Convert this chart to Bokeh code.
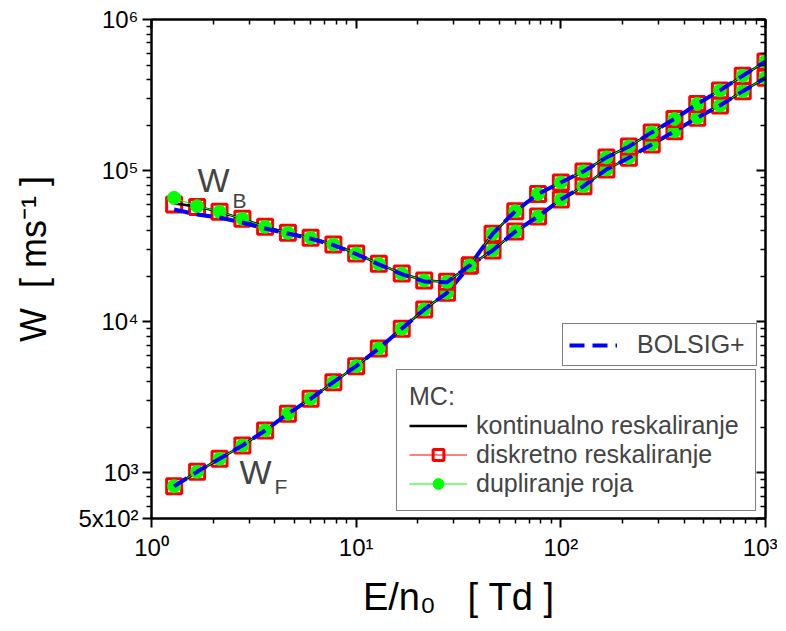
from bokeh.plotting import figure
from bokeh.models import (LogAxis, FixedTicker, Legend, LegendItem, Label, Range1d)
from bokeh.embed import file_html
from bokeh.resources import INLINE

FONT = "Liberation Sans"
NB = "\u00a0"

# ---- data ----
E = [1.29, 1.67, 2.15, 2.78, 3.59, 4.64, 5.99, 7.74, 10.0, 12.9, 16.7, 21.5, 27.8,
     35.9, 46.4, 59.9, 77.4, 100, 129, 167, 215, 278, 359, 464, 599, 774, 1000]

wf_cont = [818, 1018, 1241, 1521, 1910, 2464, 3097, 3989, 5090, 6665, 8990, 12070, 15560,
           23590, 29640, 39600, 49760, 64440, 78900, 101800, 121700, 149000, 182400,
           223800, 269900, 335600, 411400]
wf_disc = [818, 1018, 1241, 1521, 1910, 2464, 3097, 3989, 5090, 6665, 8990, 12070, 15560,
           23590, 29640, 39600, 49760, 64440, 78900, 101800, 121700, 149000, 182400,
           223800, 269900, 335600, 411400]
wf_dup = [818, 1018, 1241, 1521, 1910, 2464, 3097, 3989, 5090, 6665, 8990, 12070, 15560,
          23590, 29640, 39600, 49760, 64440, 78900, 101800, 121700, 149000, 182400,
          223800, 269900, 335600, 411400]
wf_bolsig = [818, 1018, 1241, 1521, 1910, 2464, 3097, 3989, 5090, 6665, 8990, 12070, 15560,
             23590, 29640, 39600, 49760, 64440, 78900, 101800, 121700, 149000, 182400,
             223800, 269900, 335600, 411400]

wb_cont = [61000, 57800, 53400, 48000, 42500, 38800, 35960, 32480, 28310, 24200, 20870,
           18770, 18400, 23590, 38220, 53950, 70110, 83510, 98900, 122400, 144500,
           179100, 219700, 276100, 339600, 424700, 527600]
wb_disc = [59700, 57500, 53400, 48000, 42500, 38800, 35960, 32480, 28310, 24200, 20870,
           18770, 18400, 23590, 38220, 53950, 70110, 83510, 98900, 122400, 144500,
           179100, 219700, 276100, 339600, 424700, 527600]
wb_dup = [66100, 58200, 53400, 48000, 42500, 38800, 35960, 32480, 28310, 24200, 20870,
          18770, 18400, 23590, 38220, 53950, 70110, 83510, 98900, 122400, 144500,
          179100, 219700, 276100, 339600, 424700, 527600]
wb_bolsig = [55300, 51300, 49000, 45400, 41400, 38400, 35500, 32200, 28100, 24000, 20700,
             18500, 18300, 23590, 38220, 53950, 70110, 83510, 98900, 122400, 144500,
             179100, 219700, 276100, 339600, 424700, 527600]

x_major = [1, 10, 100, 1000]
x_major_labels = ["10\u2070", "10\u00b9", "10\u00b2", "10\u00b3"]
y_major = [500, 1000, 10000, 100000, 1000000]
y_major_labels = ["5x10\u00b2", "10\u00b3", "10\u2074", "10\u2075", "10\u2076"]

x_minor = [m * d for d in (1, 10, 100) for m in range(2, 10)]
y_minor = [600, 700, 800, 900] + [m * d for d in (1000, 10000, 100000) for m in range(2, 10)]

p = figure(width=777, height=627, x_axis_type="log", y_axis_type="log",
           x_range=Range1d(1, 1000), y_range=Range1d(500, 1e6),
           output_backend="svg", toolbar_location=None,
           min_border_left=151, min_border_right=12, min_border_top=19,
           min_border_bottom=109)
p.grid.visible = False
p.outline_line_color = "black"
p.outline_line_width = 2
p.background_fill_color = "white"
p.border_fill_color = "white"

xa = p.xaxis[0]
ya = p.yaxis[0]
xa.ticker = FixedTicker(ticks=x_major, minor_ticks=x_minor)
ya.ticker = FixedTicker(ticks=y_major, minor_ticks=y_minor)
xa.major_label_overrides = dict(zip(x_major, x_major_labels))
ya.major_label_overrides = dict(zip(y_major, y_major_labels))

for ax in (xa, ya):
    ax.axis_line_width = 2
    ax.major_tick_out = 9
    ax.major_tick_in = 0
    ax.minor_tick_out = 5
    ax.minor_tick_in = 0
    ax.major_tick_line_width = 2
    ax.minor_tick_line_width = 1.5
    ax.major_label_text_font = FONT
    ax.major_label_text_font_size = "24px"
    ax.major_label_text_color = "black"
    ax.axis_label_text_font = FONT
    ax.axis_label_text_font_style = "normal"
    ax.axis_label_text_color = "black"

xa.major_label_standoff = 6
ya.major_label_standoff = 4
xa.axis_label = "E/n\u2080" + NB * 3 + "[" + NB + "Td" + NB + "]"
xa.axis_label_text_font_size = "38px"
xa.axis_label_standoff = 12
ya.axis_label = NB * 2 + "W" + NB * 2 + "[" + NB + "ms\u207b\u00b9" + NB + "]"
ya.axis_label_text_font_size = "36px"
ya.axis_label_standoff = 21

top = LogAxis(ticker=FixedTicker(ticks=x_major, minor_ticks=x_minor),
              major_label_overrides={t: "" for t in x_major})
right = LogAxis(ticker=FixedTicker(ticks=y_major, minor_ticks=y_minor),
                major_label_overrides={t: "" for t in y_major})
for ax in (top, right):
    ax.axis_line_width = 2
    ax.major_tick_in = 9
    ax.major_tick_out = 0
    ax.minor_tick_in = 5
    ax.minor_tick_out = 0
    ax.major_tick_line_width = 2
    ax.minor_tick_line_width = 1.5
    ax.major_label_text_font_size = "6px"
    ax.major_label_standoff = 0
p.add_layout(top, "above")
p.add_layout(right, "right")

# ---- data renderers ----
red_lines, red_sqs, green_lines, green_cs, black_lines, blue_lines = [], [], [], [], [], []
for cont, disc, dup, bol in ((wf_cont, wf_disc, wf_dup, wf_bolsig),
                             (wb_cont, wb_disc, wb_dup, wb_bolsig)):
    red_lines.append(p.line(E, disc, line_color="#ff0000", line_width=1))
    red_sqs.append(p.scatter(E, disc, marker="square", size=15, fill_color=None,
                             line_color="#ff0000", line_width=3))
    black_lines.append(p.line(E, cont, line_color="black", line_width=2.5))
    green_lines.append(p.line(E, dup, line_color="#00ff00", line_width=1))
    green_cs.append(p.scatter(E, dup, marker="circle", size=13, fill_color="#00ff00",
                              line_color="#00ff00"))
    blue_lines.append(p.line(E, bol, line_color="#0000ff", line_width=4,
                             line_dash="15 8"))

# ---- legends ----
leg1 = Legend(items=[LegendItem(label="BOLSIG+", renderers=[blue_lines[0]])],
              location=(411, 152), padding=6, spacing=0, margin=0,
              glyph_width=48, glyph_height=26, label_standoff=20, label_width=113,
              label_text_font=FONT, label_text_font_size="25px",
              border_line_color="black", border_line_width=1,
              background_fill_color="white", background_fill_alpha=1)
leg2 = Legend(items=[LegendItem(label="kontinualno reskaliranje", renderers=[black_lines[0]]),
                     LegendItem(label="diskretno reskaliranje",
                                renderers=[red_lines[0], red_sqs[0]]),
                     LegendItem(label="dupliranje roja",
                                renderers=[green_lines[0], green_cs[0]])],
              title="MC:", title_text_font=FONT, title_text_font_size="25px",
              title_text_font_style="normal", title_standoff=0,
              location=(245, 7), padding=12, spacing=0, margin=0,
              glyph_width=58, glyph_height=27, label_height=27, label_standoff=9,
              label_width=267,
              label_text_font=FONT, label_text_font_size="25px",
              border_line_color="black", border_line_width=1,
              background_fill_color="white", background_fill_alpha=1)
p.add_layout(leg1)
p.add_layout(leg2)

# ---- curve labels ----
p.add_layout(Label(x=1.678, y=86100, text="W", text_font=FONT, text_font_size="34px",
                   text_baseline="alphabetic"))
p.add_layout(Label(x=2.487, y=63000, text="B", text_font=FONT, text_font_size="21px",
                   text_baseline="alphabetic"))
p.add_layout(Label(x=2.69, y=1023, text="W", text_font=FONT, text_font_size="34px",
                   text_baseline="alphabetic"))
p.add_layout(Label(x=3.99, y=814, text="F", text_font=FONT, text_font_size="21px",
                   text_baseline="alphabetic"))

open("out.html", "w").write(file_html(p, INLINE))
